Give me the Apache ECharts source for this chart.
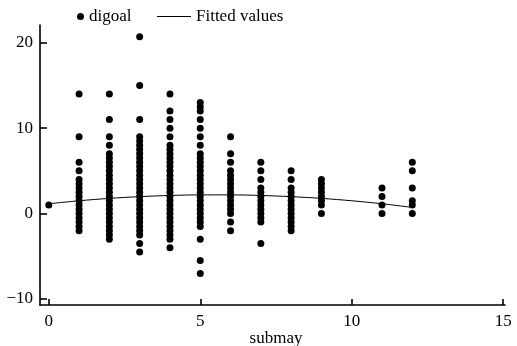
<!DOCTYPE html>
<html>
<head>
<meta charset="utf-8">
<script src="https://cdn.jsdelivr.net/npm/echarts@6/dist/echarts.min.js"></script>
<style>
html,body{margin:0;padding:0;background:#fff;}
#chart{width:517px;height:346px;}
</style>
</head>
<body>
<div id="chart"></div>
<script>
// digoal values read per submay column
var sub0 = [1];
var sub1 = [14, 9, 6, 5, 4, 3.5, 3, 2.5, 2, 1.5, 1, 0.5, 0, -0.5, -1, -1.5, -2];
var sub2 = [14, 11, 9, 8, 7, 6.5, 6, 5.5, 5, 4.5, 4, 3.5, 3, 2.5, 2, 1.5, 1, 0.5, 0, -0.5, -1, -1.5, -2, -2.5, -3];
var sub3 = [20.7, 15, 11, 9, 8.5, 8, 7.5, 7, 6.5, 6, 5.5, 5, 4.5, 4, 3.5, 3, 2.5, 2, 1.5, 1, 0.5, 0, -0.5, -1, -1.5, -2, -2.5, -3.5, -4.5];
var sub4 = [14, 12, 11, 10, 9, 8, 7.5, 7, 6.5, 6, 5.5, 5, 4.5, 4, 3.5, 3, 2.5, 2, 1.5, 1, 0.5, 0, -0.5, -1, -1.5, -2, -2.5, -3, -4];
var sub5 = [13, 12.5, 12, 11, 10, 9, 8, 7, 6.5, 6, 5.5, 5, 4.5, 4, 3.5, 3, 2.5, 2, 1.5, 1, 0.5, 0, -0.5, -1, -1.5, -3, -5.5, -7];
var sub6 = [9, 7, 6, 5, 4.5, 4, 3.5, 3, 2.5, 2, 1.5, 1, 0.5, 0, -1, -2];
var sub7 = [6, 5, 4, 3, 2.5, 2, 1.5, 1, 0.5, 0, -0.5, -1, -3.5];
var sub8 = [5, 4, 3, 2.5, 2, 1.5, 1, 0.5, 0, -0.5, -1, -1.5, -2];
var sub9 = [4, 3.5, 3, 2.5, 2, 1.5, 1, 0];
var sub11 = [3, 2, 1, 0];
var sub12 = [6, 5, 3, 1.5, 1, 0];

// fitted values (quadratic fit line) read at each submay
var fitX = [0, 1, 2, 3, 4, 5, 6, 7, 8, 9, 10, 11, 12];
var fitY = [1.15, 1.5, 1.78, 1.98, 2.12, 2.19, 2.19, 2.12, 1.98, 1.78, 1.5, 1.15, 0.72];

var xTicks = [0, 5, 10, 15];
var yTicks = [-10, 0, 10, 20];

var cols = [[0, sub0], [1, sub1], [2, sub2], [3, sub3], [4, sub4], [5, sub5], [6, sub6],
            [7, sub7], [8, sub8], [9, sub9], [11, sub11], [12, sub12]];
var pts = [];
for (var i = 0; i < cols.length; i++) {
  for (var j = 0; j < cols[i][1].length; j++) {
    pts.push([cols[i][0], cols[i][1][j]]);
  }
}
var fitPts = [];
for (var k = 0; k < fitX.length; k++) fitPts.push([fitX[k], fitY[k]]);

var font = 'Liberation Serif';
var fs = 17;
var axisStyle = {color: '#000', width: 1.6};
function minus(v) { return String(v).replace('-', '\u2212'); }

var myChart = echarts.init(document.getElementById('chart'));
var option = {
  animation: false,
  textStyle: {fontFamily: font, color: '#000'},
  grid: {left: 40, right: 12, top: 25, bottom: 41, outerBoundsMode: 'none'},
  legend: [
    {
      data: [{name: 'digoal', icon: 'circle'}],
      left: 72, top: 3,
      itemWidth: 7, itemHeight: 7,
      textStyle: {fontFamily: font, fontSize: fs, color: '#000'}
    },
    {
      data: [{name: 'Fitted values', icon: 'rect'}],
      left: 152, top: 3,
      itemWidth: 34, itemHeight: 1.2,
      textStyle: {fontFamily: font, fontSize: fs, color: '#000'}
    }
  ],
  xAxis: {
    type: 'value', min: -0.29, max: 15.06,
    name: 'submay', nameLocation: 'middle', nameGap: 25, nameMoveOverlap: false,
    nameTextStyle: {fontFamily: font, fontSize: fs, color: '#000', verticalAlign: 'top', padding: [0, 0, 0, 7]},
    splitLine: {show: false},
    axisLine: {onZero: false, lineStyle: axisStyle},
    axisTick: {inside: true, length: 6, customValues: xTicks, lineStyle: axisStyle},
    axisLabel: {customValues: xTicks, margin: 8, fontFamily: font, fontSize: fs, color: '#000'}
  },
  yAxis: {
    type: 'value', min: -10.7, max: 22.07,
    splitLine: {show: false},
    axisLine: {show: true, onZero: false, lineStyle: axisStyle},
    axisTick: {show: true, inside: true, length: 7, customValues: yTicks, lineStyle: axisStyle},
    axisLabel: {customValues: yTicks, formatter: minus, margin: 7, fontFamily: font, fontSize: fs, color: '#000'}
  },
  series: [
    {
      name: 'digoal', type: 'scatter', data: pts,
      symbolSize: 7, itemStyle: {color: '#000', opacity: 1}
    },
    {
      name: 'Fitted values', type: 'line', data: fitPts,
      symbol: 'none', smooth: 0.3,
      lineStyle: {color: '#000', width: 1}, itemStyle: {color: '#000'}
    }
  ]
};
myChart.setOption(option);
</script>
</body>
</html>
